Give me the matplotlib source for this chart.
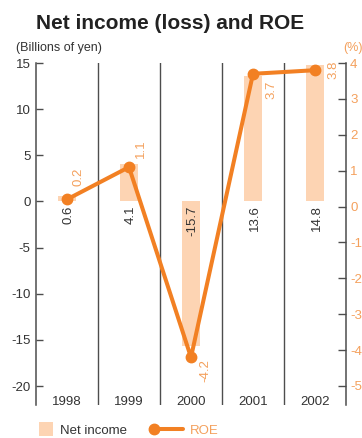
import numpy as np
import matplotlib.pyplot as plt
from matplotlib.lines import Line2D
from matplotlib.patches import Patch, Rectangle
from matplotlib.legend_handler import HandlerBase

plt.rcParams['font.family'] = ['Liberation Sans', 'DejaVu Sans']
plt.rcParams['axes.unicode_minus'] = False

years = ['1998', '1999', '2000', '2001', '2002']
net_income = [0.6, 4.1, -15.7, 13.6, 14.8]   # billions of yen
roe = [0.2, 1.1, -4.2, 3.7, 3.8]             # percent

# label offsets (points) for the ROE values, so they sit clear of the line
roe_label_offsets = [(8.5, 16.5), (8.5, 13.5), (10, -9.5), (13, -11.5), (13, 0)]

BAR_COLOR = '#FDD4B3'
LINE_COLOR = '#F28023'
ORANGE_TEXT = '#F4A05C'
DARK = '#333333'
AXIS_GRAY = '#4d4d4d'


class SquareHandler(HandlerBase):
    """Square swatch pushed to the right end of the handle box."""
    def create_artists(self, legend, orig_handle, xdescent, ydescent,
                       width, height, fontsize, trans):
        side = 10
        yc = (height - ydescent) / 2
        rect = Rectangle((width - xdescent - side, yc - side / 2), side, side,
                         facecolor=orig_handle.get_facecolor(), edgecolor='none',
                         transform=trans)
        return [rect]


class LeftMarkerHandler(HandlerBase):
    """Line swatch with its marker at the left end."""
    def create_artists(self, legend, orig_handle, xdescent, ydescent,
                       width, height, fontsize, trans):
        yc = (height - ydescent) / 2
        line = Line2D([-xdescent + 2, width - xdescent], [yc, yc],
                      color=orig_handle.get_color(), lw=orig_handle.get_linewidth(),
                      solid_capstyle='round', transform=trans)
        dot = Line2D([-xdescent + 4], [yc], marker='o', linestyle='none',
                     markersize=orig_handle.get_markersize(),
                     color=orig_handle.get_color(), transform=trans)
        return [line, dot]


fig = plt.figure(figsize=(3.62, 4.38), dpi=100)
ax = fig.add_axes([0.0994, 0.0753, 0.8564, 0.7808])
ax2 = ax.twinx()

x = np.arange(len(years))

# net income bars
ax.bar(x, net_income, width=0.3, color=BAR_COLOR, zorder=1)
for xi, v in zip(x, net_income):
    ax.text(xi + 0.03, -0.4, f'{v:.1f}', rotation=90, ha='center', va='top',
            fontsize=9.5, color=DARK, zorder=3)

# year separators and year labels
for xi in x[:-1]:
    ax.axvline(xi + 0.5, color=AXIS_GRAY, lw=1.0, zorder=2)
for xi, yr in zip(x, years):
    ax.text(xi, -21.7, yr, ha='center', va='center', fontsize=9.5, color=DARK)

ax.set_xlim(-0.5, len(years) - 0.5)
ax.set_ylim(-22.05, 15)
ax.set_yticks(np.arange(-20, 16, 5))
ax.set_xticks([])
ax.tick_params(axis='y', direction='in', length=5, width=1, color=AXIS_GRAY,
               labelsize=9.5, labelcolor=DARK, pad=4)
for side in ['top', 'bottom', 'right']:
    ax.spines[side].set_visible(False)
ax.spines['left'].set_color(AXIS_GRAY)
ax.spines['left'].set_linewidth(1.1)

# ROE line
ax2.plot(x, roe, color=LINE_COLOR, lw=2.9, marker='o', markersize=7.5,
         solid_capstyle='round', zorder=4)
for xi, v, (dx, dy) in zip(x, roe, roe_label_offsets):
    ax2.annotate(f'{v:.1f}', (xi, v), xytext=(dx, dy), textcoords='offset points',
                 rotation=90, ha='center', va='center', fontsize=9.5,
                 color=ORANGE_TEXT)
ax2.set_ylim(-5.53, 4)
ax2.set_yticks(np.arange(-5, 5, 1))
ax2.tick_params(axis='y', direction='in', length=5.5, width=1, color=AXIS_GRAY,
                labelsize=9.5, labelcolor=ORANGE_TEXT, pad=3)
for side in ['top', 'bottom', 'left']:
    ax2.spines[side].set_visible(False)
ax2.spines['right'].set_color(AXIS_GRAY)
ax2.spines['right'].set_linewidth(1.1)

# titles
fig.text(0.471, 0.947, 'Net income (loss) and ROE', ha='center', va='center',
         fontsize=15, fontweight='bold', color='#222222')
fig.text(0.044, 0.890, '(Billions of yen)', ha='left', va='center',
         fontsize=9, color=DARK)
fig.text(0.948, 0.890, '(%)', ha='left', va='center', fontsize=9,
         color=ORANGE_TEXT)

# legend
bar_handle = Patch(facecolor=BAR_COLOR)
line_handle = Line2D([], [], color=LINE_COLOR, lw=2.9, marker='o', markersize=7.5)
fig.legend([bar_handle, line_handle], ['Net income', 'ROE'],
           handler_map={Patch: SquareHandler(), Line2D: LeftMarkerHandler()},
           loc='lower left', bbox_to_anchor=(0.047, 0.0), ncol=2, frameon=False,
           fontsize=9.5, handlelength=2.65, handletextpad=0.5, columnspacing=1.6,
           borderpad=0.1, borderaxespad=0)
for t, c in zip(fig.legends[0].get_texts(), [DARK, ORANGE_TEXT]):
    t.set_color(c)

fig.savefig('out.png', dpi=100)
